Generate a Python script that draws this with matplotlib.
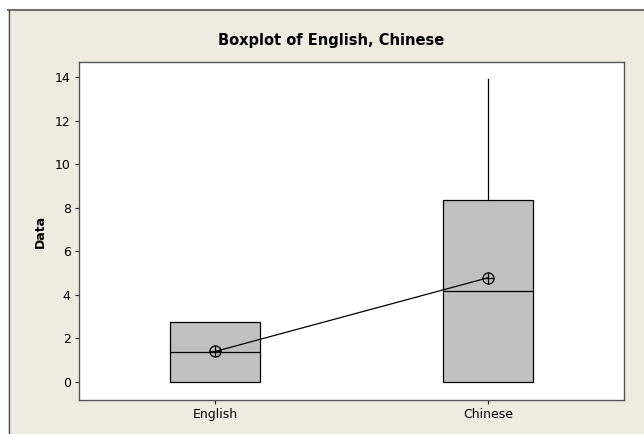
import matplotlib
matplotlib.use("Agg")
import matplotlib.pyplot as plt
from matplotlib.patches import Rectangle
from matplotlib.lines import Line2D

# values
categories = ["English", "Chinese"]
q1 = [0.0, 0.0]
medians = [1.39, 4.17]
q3 = [2.77, 8.35]
whisker_lo = [0.0, 0.0]
whisker_hi = [2.77, 13.9]
means = [1.40, 4.78]

bg = "#eeebe1"
fig = plt.figure(figsize=(6.44, 4.34), dpi=100)
fig.patch.set_facecolor(bg)

# white margin strips top and left, with grey frame line
fig.add_artist(Rectangle((0, 1 - 9 / 434), 1, 9 / 434, transform=fig.transFigure,
                         facecolor="white", edgecolor="none", zorder=-5))
fig.add_artist(Rectangle((0, 0), 8 / 644, 1, transform=fig.transFigure,
                         facecolor="white", edgecolor="none", zorder=-5))
fig.add_artist(Line2D([8 / 644, 1], [1 - 9.5 / 434] * 2, transform=fig.transFigure,
                      color="#707070", lw=1.5))
fig.add_artist(Line2D([8.5 / 644] * 2, [0, 1 - 9.5 / 434], transform=fig.transFigure,
                      color="#505050", lw=1.0))

ax = fig.add_axes([79 / 644, 1 - 400 / 434, (624 - 79) / 644, (400 - 62) / 434])
ax.set_facecolor("white")
ax.set_zorder(3)

positions = list(range(1, len(categories) + 1))
stats = []
for i, name in enumerate(categories):
    stats.append({"label": name, "q1": q1[i], "med": medians[i], "q3": q3[i],
                  "whislo": whisker_lo[i], "whishi": whisker_hi[i], "fliers": []})

ax.bxp(stats, positions=positions, widths=0.33, patch_artist=True, showcaps=False,
       boxprops=dict(facecolor="#c0c0c0", edgecolor="black", lw=0.9),
       medianprops=dict(color="black", lw=0.9),
       whiskerprops=dict(color="black", lw=0.9))

# mean connect line and circle-plus symbols
ax.plot(positions, means, color="black", lw=0.9, zorder=4)
ax.plot(positions, means, "o", ms=8, mfc="none", mec="black", mew=0.9, zorder=5)
ax.plot(positions, means, "+", ms=8, color="black", mew=0.9, zorder=5)

ax.set_xlim(0.5, 2.5)
ax.set_ylim(-0.83, 14.69)
ax.set_yticks(range(0, 15, 2))
ax.set_xticks(positions)
ax.set_xticklabels(categories)
ax.tick_params(axis="both", direction="out", length=3, width=0.8, labelsize=9,
               colors="#222222", labelcolor="black", pad=3)
for s in ax.spines.values():
    s.set_color("#555555")
    s.set_linewidth(1.0)

ax.set_ylabel("Data", fontsize=9, fontweight="bold", labelpad=6)
fig.text(331 / 644, 1 - 40.5 / 434, "Boxplot of English, Chinese",
         ha="center", va="center", fontsize=10.5, fontweight="bold")

fig.savefig("out.png", dpi=100, facecolor=fig.get_facecolor())
